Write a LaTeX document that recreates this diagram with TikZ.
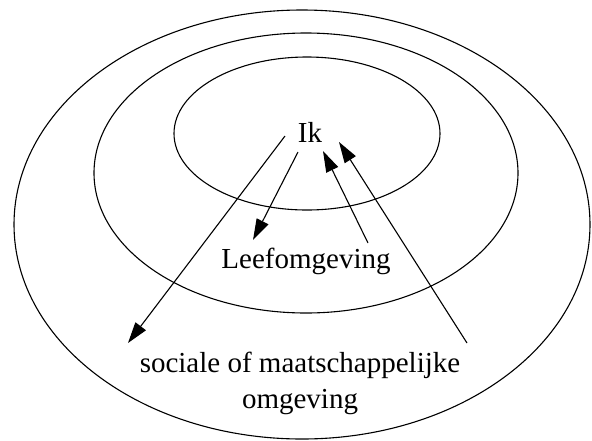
\documentclass[tikz,border=0pt]{standalone}
\usepackage{fontspec}
\setmainfont{Liberation Serif}
\usetikzlibrary{arrows.meta}
\begin{document}
\begin{tikzpicture}[x=1pt,y=-1pt,
  ring/.style={draw=black,line width=1.1pt},
  lbl/.style={font=\fontsize{29}{36}\selectfont,inner sep=0pt,align=center},
  arr/.style={draw=black,line width=1.1pt,-{Triangle[length=21pt,width=13pt]}}]
\useasboundingbox (0,0) rectangle (592,440);
\draw[ring] (302,224.5) ellipse [x radius=288pt,y radius=214.5pt];
\draw[ring] (306,173) ellipse [x radius=212pt,y radius=140pt];
\draw[ring] (307,133.5) ellipse [x radius=133pt,y radius=76.5pt];
\node[lbl,anchor=base] (ik) at (310,142) {Ik};
\node[lbl,anchor=base] (leef) at (306,268) {Leefomgeving};
\node[lbl,anchor=base] (soc) at (300,408) {sociale of maatschappelijke\\omgeving};
\coordinate (a1s) at (285,136);
\coordinate (a1e) at (128,343);
\coordinate (a2s) at (298,152);
\coordinate (a2e) at (253,240);
\coordinate (a3s) at (368,243);
\coordinate (a3e) at (323,151);
\coordinate (a4s) at (467,343);
\coordinate (a4e) at (339,142);
\draw[arr] (a1s) -- (a1e);
\draw[arr] (a2s) -- (a2e);
\draw[arr] (a3s) -- (a3e);
\draw[arr] (a4s) -- (a4e);
\end{tikzpicture}
\end{document}
